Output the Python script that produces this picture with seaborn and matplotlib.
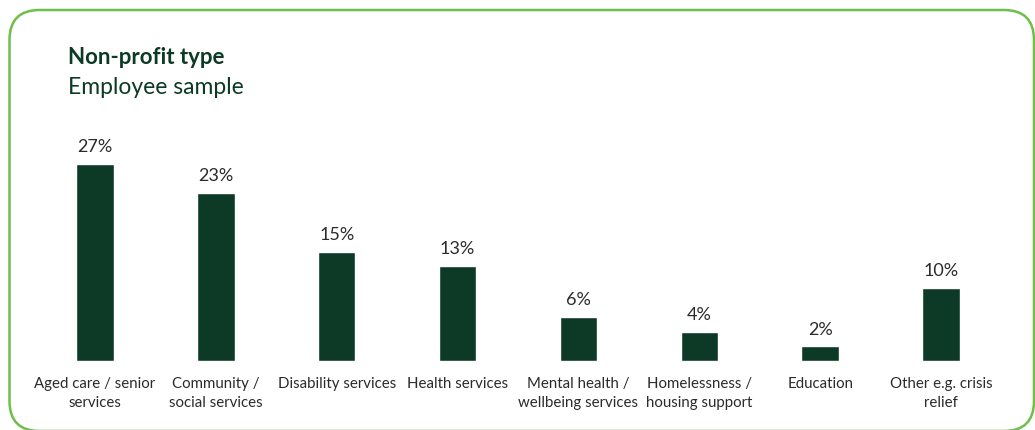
import matplotlib
matplotlib.use("Agg")
import matplotlib.pyplot as plt
from matplotlib.patches import FancyBboxPatch
from matplotlib.transforms import IdentityTransform
import seaborn as sns
import pandas as pd

categories = [
    "Aged care / senior\nservices",
    "Community /\nsocial services",
    "Disability services",
    "Health services",
    "Mental health /\nwellbeing services",
    "Homelessness /\nhousing support",
    "Education",
    "Other e.g. crisis\nrelief",
]
shares = [27, 23, 15, 13, 6, 4, 2, 10]
value_labels = ["27%", "23%", "15%", "13%", "6%", "4%", "2%", "10%"]

title = "Non-profit type"
subtitle = "Employee sample"

DARK_GREEN = "#0c3a27"
BORDER_GREEN = "#6cc04a"
TEXT = "#2b2b2b"

sns.set_theme(style="white")
plt.rcParams["font.family"] = ["Lato", "DejaVu Sans"]

W, H, DPI = 1035, 431, 100
fig = plt.figure(figsize=(W / DPI, H / DPI), dpi=DPI)

# axes placed in pixel terms: bar baseline at y=362, first/last bar centres at x=95/941
step = (941 - 95) / 7
left_px = 95 - step / 2
right_px = 941 + step / 2
base_px = 362
top_px = 120
ax = fig.add_axes([left_px / W, (H - base_px) / H,
                   (right_px - left_px) / W, (base_px - top_px) / H])

df = pd.DataFrame({"category": categories, "share": shares})
sns.barplot(data=df, x="category", y="share", color=DARK_GREEN,
            saturation=1, width=0.31, ax=ax)

ax.set_xlim(-0.5, 7.5)
ax.set_ylim(0, (base_px - top_px) / 7.3)
for c in ax.containers:
    ax.bar_label(c, labels=value_labels, padding=7, fontsize=13, color=TEXT)

ax.set_xlabel("")
ax.set_ylabel("")
ax.set_yticks([])
ax.tick_params(axis="x", length=0, pad=11, labelsize=10.8, labelcolor=TEXT)
for lbl in ax.get_xticklabels():
    lbl.set_linespacing(1.45)
    lbl.set_verticalalignment("top")
sns.despine(ax=ax, left=True, bottom=True)

fig.text(68 / W, 1 - 57 / H, title, fontsize=16, fontweight="bold",
         color=DARK_GREEN, va="center", ha="left")
fig.text(68 / W, 1 - 88 / H, subtitle, fontsize=16.5,
         color=DARK_GREEN, va="center", ha="left")

# rounded frame around the panel (pixel coordinates, origin bottom-left)
x0, x1 = 9.5, 1034
y_top, y_bot = 11, 432
frame = FancyBboxPatch((x0, H - y_bot), x1 - x0, y_bot - y_top,
                       boxstyle="round,pad=0,rounding_size=30",
                       transform=IdentityTransform(), fill=False,
                       edgecolor=BORDER_GREEN, linewidth=1.8, clip_on=False)
fig.patches.append(frame)

fig.savefig("out.png", dpi=DPI)
